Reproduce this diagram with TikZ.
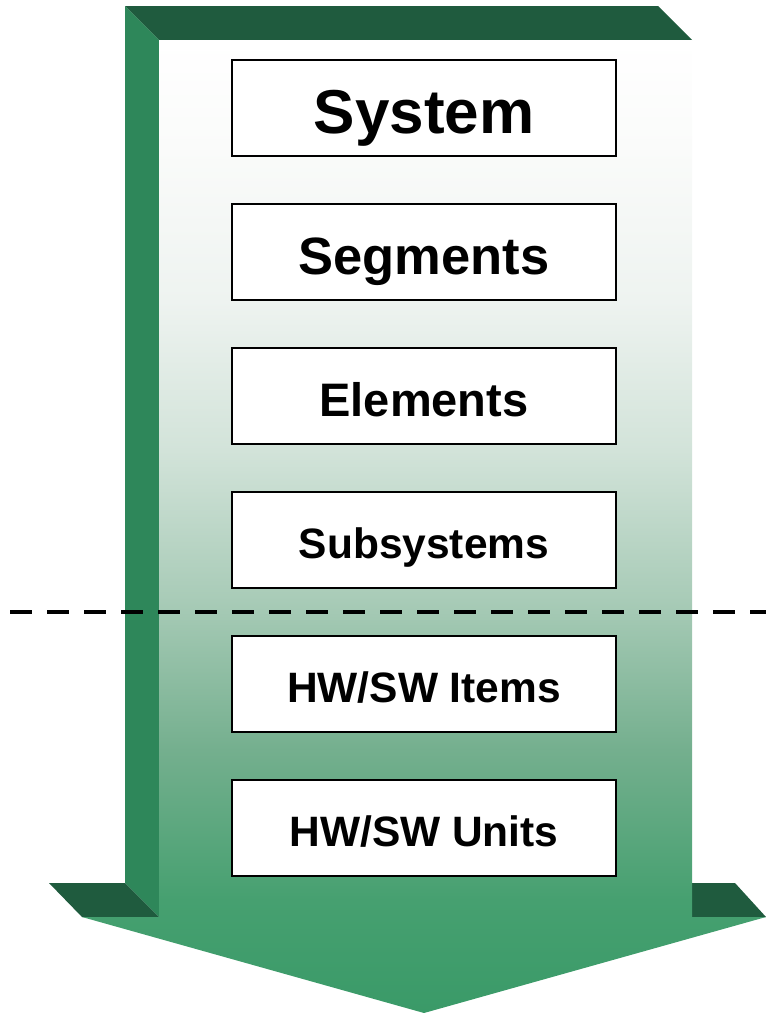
\documentclass[tikz,border=0pt]{standalone}
\usepackage{fontspec}
\setmainfont{Liberation Sans}
\definecolor{facedark}{HTML}{1F5B3E}
\definecolor{faceside}{HTML}{2E875A}
\definecolor{g0}{HTML}{FFFFFF}
\definecolor{g1}{HTML}{FAFBFA}
\definecolor{g2}{HTML}{EEF3F0}
\definecolor{g3}{HTML}{D2E3D9}
\definecolor{g4}{HTML}{A8CBB7}
\definecolor{g5}{HTML}{74AF8E}
\definecolor{g6}{HTML}{46A070}
\definecolor{g7}{HTML}{3A9A68}
% front face of the arrow: white at the top, deepening green towards the tip
\pgfdeclareverticalshading{frontshade}{100bp}{%
  color(0bp)=(g7); color(25bp)=(g7); color(30.8bp)=(g6); color(38.5bp)=(g5);
  color(46.2bp)=(g4); color(53.9bp)=(g3); color(61.6bp)=(g2); color(69.4bp)=(g1);
  color(75bp)=(g0); color(100bp)=(g0)}
% #1 = font size, #2 = text height (cap height plus a little, so the capitals sit just below centre)
\tikzset{
  levelbox/.style 2 args={draw=black, line width=2pt, fill=white, minimum width=384pt,
    minimum height=96pt, inner sep=0pt, font=\bfseries\fontsize{#1}{#1}\selectfont,
    text height=#2, text depth=0pt},
  cut/.style={draw=black, line width=4pt, dash pattern=on 22pt off 15pt}
}
\begin{document}
\begin{tikzpicture}[x=1pt,y=-1pt]
\useasboundingbox (0,0) rectangle (766,1013);
% top bevel
\fill[facedark] (125,6) -- (658,6) -- (692,40) -- (159,40) -- cycle;
% left side of the shaft
\fill[faceside] (125,6) -- (159,40) -- (159,917) -- (125,883) -- cycle;
% undersides of the arrow-head wings
\fill[facedark] (49,883) -- (125,883) -- (159,917) -- (82,917) -- cycle;
\fill[facedark] (692,883) -- (735,883) -- (766,917) -- (692,917) -- cycle;
% front face
\shade[shading=frontshade] (159,40) -- (692,40) -- (692,917) -- (766,917)
  -- (424,1013) -- (82,917) -- (159,917) -- cycle;
% levels
\node[levelbox={62}{51.4pt}] (sys) at (424,108) {System};
\node[levelbox={52.5}{44.6pt}] (seg) at (424,252) {Segments};
\node[levelbox={47}{40.7pt}] (ele) at (424,396) {Elements};
\node[levelbox={42.5}{37.4pt}] (sub) at (424,540) {Subsystems};
\node[levelbox={42.5}{37.4pt}] (itm) at (424,684) {HW/SW Items};
\node[levelbox={42.5}{37.4pt}] (uni) at (424,828) {HW/SW Units};
% dividing line
\coordinate (cutL) at (10,612);
\coordinate (cutR) at (766,612);
\draw[cut] (cutL) -- (cutR);
\end{tikzpicture}
\end{document}
